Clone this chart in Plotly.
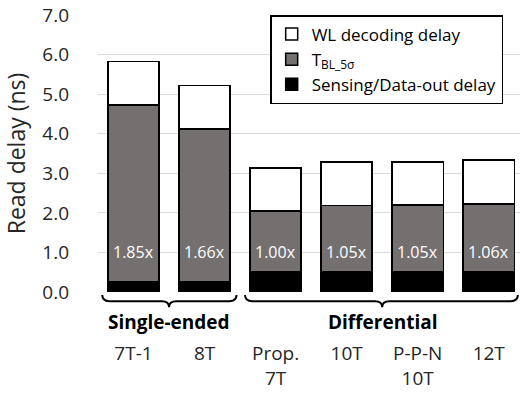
import plotly.graph_objects as go

# Read delay breakdown per SRAM bitcell (ns)
cells = ["7T-1", "8T", "Prop. 7T", "10T", "P-P-N 10T", "12T"]
cell_labels = ["7T-1", "8T", "Prop.<br>7T", "10T", "P-P-N<br>10T", "12T"]
sensing_delay = [0.25, 0.25, 0.50, 0.50, 0.50, 0.50]
tbl_5sigma = [4.48, 3.87, 1.55, 1.68, 1.70, 1.72]
wl_decoding = [1.10, 1.10, 1.09, 1.11, 1.09, 1.11]
ratio_labels = ["1.85x", "1.66x", "1.00x", "1.05x", "1.05x", "1.06x"]

FONT = "Open Sans"
TXT = "#262626"

fig = go.Figure()
fig.add_bar(x=cells, y=sensing_delay, name="Sensing/Data-out delay",
            marker=dict(color="#000000", line=dict(color="#000000", width=1.5)))
fig.add_bar(x=cells, y=tbl_5sigma, name="T<sub>BL_5σ</sub>",
            marker=dict(color="#747070", line=dict(color="#000000", width=1.5)))
fig.add_bar(x=cells, y=wl_decoding, name="WL decoding delay",
            marker=dict(color="#ffffff", line=dict(color="#000000", width=1.5)))

# normalized delay labels inside the bars
for c, lab in zip(cells, ratio_labels):
    fig.add_annotation(x=c, y=1.0, text=lab, showarrow=False,
                       font=dict(family=FONT, size=16, color="#ffffff"))

# group braces below the category axis
def brace(x0, x1, xm, r=0.1, ytop=-0.011, ymid=-0.033, ybot=-0.055):
    return (f"M {x0},{ytop} Q {x0},{ymid} {x0 + r},{ymid} "
            f"L {xm - r},{ymid} Q {xm},{ymid} {xm},{ybot} "
            f"Q {xm},{ymid} {xm + r},{ymid} L {x1 - r},{ymid} "
            f"Q {x1},{ymid} {x1},{ytop}")

groups = [("Single-ended", -0.44, 1.45, 0.5), ("Differential", 1.57, 5.41, 3.5)]
for name, x0, x1, xm in groups:
    fig.add_shape(type="path", xref="x", yref="paper", path=brace(x0, x1, xm),
                  line=dict(color="#000000", width=2))
    fig.add_annotation(x=xm, xref="x", y=-0.108, yref="paper", yanchor="middle",
                       text=f"<b>{name}</b>", showarrow=False,
                       font=dict(family=FONT, size=19, color="#000000"))

fig.update_layout(
    barmode="stack",
    bargap=0.28,
    width=520, height=393,
    margin=dict(l=98, r=0, t=15, b=101),
    plot_bgcolor="#ffffff", paper_bgcolor="#ffffff",
    font=dict(family=FONT, size=18, color=TXT),
    legend=dict(x=0.408, y=1.0, xanchor="left", yanchor="top",
                traceorder="reversed", bgcolor="#ffffff",
                bordercolor="#000000", borderwidth=1.5,
                font=dict(family=FONT, size=17, color="#000000"),
                itemwidth=30, tracegroupgap=0),
    xaxis=dict(type="category", range=[-0.5, 5.44], tickvals=cells, ticktext=cell_labels,
               showgrid=False, showline=False, ticks="", ticklabelstandoff=48,
               tickfont=dict(family=FONT, size=19, color=TXT)),
    yaxis=dict(range=[0, 7], dtick=1.0, tickformat=".1f", showgrid=True,
               gridcolor="#d9d9d9", gridwidth=1, zeroline=False, showline=False,
               ticks="", ticklabelstandoff=28,
               tickfont=dict(family=FONT, size=19, color=TXT),
               title=dict(text="Read delay (ns)", standoff=12,
                          font=dict(family=FONT, size=23, color=TXT))),
)

fig.write_html("out.html")
